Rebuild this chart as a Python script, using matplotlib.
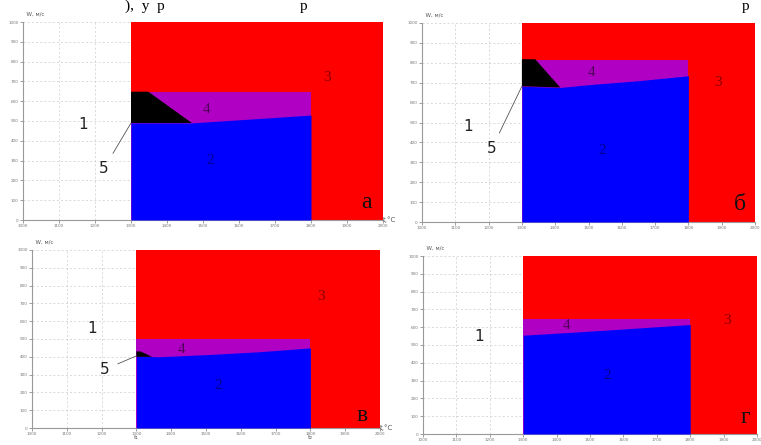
import numpy as np
import matplotlib.pyplot as plt
from matplotlib.patches import Polygon

# axis ticks (t, °C and W, m/s)
t_ticks = [1000, 1100, 1200, 1300, 1400, 1500, 1600, 1700, 1800, 1900, 2000]
w_ticks = [0, 100, 200, 300, 400, 500, 600, 700, 800, 900, 1000]

# boundaries of the regions, one set per panel
t1 = 1300   # start of the heated (red) zone
t2 = 1800   # end of the blue zone

a_blue_t = [1300, 1465, 1550, 1650, 1800]
a_blue_w = [490, 490, 500, 512, 530]
a_purple_top = 648
a_black_t = [1300, 1300, 1348, 1469]
a_black_w = [490, 648, 648, 490]

b_blue_t = [1300, 1415, 1500, 1650, 1800]
b_blue_w = [682, 676, 690, 710, 735]
b_purple_top = 815
b_black_t = [1300, 1300, 1340, 1415]
b_black_w = [682, 818, 818, 676]

v_blue_t = [1300, 1360, 1500, 1650, 1800]
v_blue_w = [405, 400, 412, 428, 450]
v_purple_top = 502
v_black_t = [1300, 1300, 1312, 1345]
v_black_w = [400, 430, 430, 400]

g_blue_t = [1300, 1450, 1600, 1800]
g_blue_w = [555, 572, 590, 615]
g_purple_top = 648
g_black_t = []
g_black_w = []

RED = "#ff0000"
BLUE = "#0000ff"
PURPLE = "#b000c4"

W, H = 761, 445
fig = plt.figure(figsize=(W / 100, H / 100), dpi=100)


def px_axes(left, top, right, bottom):
    return fig.add_axes([left / W, 1 - bottom / H, (right - left) / W, (bottom - top) / H])


def draw_panel(ax, blue_t, blue_w, purple_top, black_t, black_w):
    ax.set_xlim(t_ticks[0], t_ticks[-1])
    ax.set_ylim(w_ticks[0], w_ticks[-1])
    ax.set_xticks(t_ticks)
    ax.set_yticks(w_ticks)
    ax.tick_params(labelsize=3, colors="#777777", length=2, width=0.5, pad=1)
    ax.grid(True, ls=(0, (3, 3)), color="#cccccc", lw=0.5)
    ax.set_axisbelow(True)
    for s in ["top", "right"]:
        ax.spines[s].set_visible(False)
    for s in ["left", "bottom"]:
        ax.spines[s].set_color("#999999")
        ax.spines[s].set_linewidth(0.8)
    ax.axvspan(t1, t_ticks[-1], color=RED, lw=0, zorder=1)
    ax.fill_between([t1, t2], 0, purple_top, color=PURPLE, lw=0, zorder=2)
    ax.fill_between(blue_t, 0, blue_w, color=BLUE, lw=0, zorder=3)
    if black_t:
        ax.add_patch(Polygon(list(zip(black_t, black_w)), closed=True,
                             color="black", lw=0, zorder=4))


def region_labels(ax, p1, p2, p3, p4, letter_pos, letter):
    ax.text(*p1, "1", transform=ax.transAxes, fontsize=11, ha="center", va="center", color="#222222")
    ax.text(*p2, "3", transform=ax.transAxes, fontsize=11, ha="center", va="center",
            color="#8a0000", family="Liberation Serif", zorder=6)
    ax.text(*p3, "2", transform=ax.transAxes, fontsize=11, ha="center", va="center",
            color="#000090", family="Liberation Serif", zorder=6)
    ax.text(*p4, "4", transform=ax.transAxes, fontsize=11, ha="center", va="center",
            color="#50005a", family="Liberation Serif", zorder=6)
    ax.text(*letter_pos, letter, transform=ax.transAxes, fontsize=17, ha="center", va="center",
            color="#111111", family="Liberation Serif", zorder=6)


def label5(ax, text_pos, tip):
    ax.annotate("5", xy=tip, xytext=text_pos, textcoords="axes fraction",
                fontsize=11, ha="center", va="center", color="#222222",
                arrowprops=dict(arrowstyle="-", color="#555555", lw=0.6,
                                shrinkA=4, shrinkB=0), zorder=6, annotation_clip=False)


# panel а
ax_a = px_axes(23, 22, 383, 220)
draw_panel(ax_a, a_blue_t, a_blue_w, a_purple_top, a_black_t, a_black_w)
region_labels(ax_a, (0.167, 0.48), (0.845, 0.72), (0.52, 0.30), (0.51, 0.56), (0.955, 0.09), "а")
label5(ax_a, (0.225, 0.26), (1300, 490))

# panel б
ax_b = px_axes(422, 23, 755, 222)
draw_panel(ax_b, b_blue_t, b_blue_w, b_purple_top, b_black_t, b_black_w)
region_labels(ax_b, (0.14, 0.48), (0.89, 0.70), (0.54, 0.36), (0.51, 0.75), (0.955, 0.09), "б")
label5(ax_b, (0.21, 0.37), (1300, 682))

# panel в
ax_v = px_axes(32, 250, 380, 428)
draw_panel(ax_v, v_blue_t, v_blue_w, v_purple_top, v_black_t, v_black_w)
region_labels(ax_v, (0.172, 0.56), (0.83, 0.74), (0.535, 0.24), (0.43, 0.44), (0.95, 0.07), "в")
label5(ax_v, (0.21, 0.33), (1300, 405))

# panel г
ax_g = px_axes(423, 256, 757, 434)
draw_panel(ax_g, g_blue_t, g_blue_w, g_purple_top, g_black_t, g_black_w)
region_labels(ax_g, (0.167, 0.55), (0.91, 0.64), (0.55, 0.33), (0.43, 0.61), (0.965, 0.09), "г")

# axis captions
for ax in [ax_a, ax_b, ax_v, ax_g]:
    ax.text(0.0, 1.03, "  W, м/с", transform=ax.transAxes, fontsize=4, color="#555555",
            ha="left", va="bottom")
for ax in [ax_a, ax_v]:
    ax.text(1.0, 0.0, "t,°C", transform=ax.transAxes, fontsize=5, color="#555555",
            ha="left", va="center", zorder=7)
ax_v.text(t1, -0.055, "t₁", transform=ax_v.get_xaxis_transform(), fontsize=4.5,
          color="#555555", ha="center", va="center")
ax_v.text(t2, -0.055, "t₂", transform=ax_v.get_xaxis_transform(), fontsize=4.5,
          color="#555555", ha="center", va="center")

# line of the page text above the figure
fig.text(125 / W, 1.0, "),  у  р", fontsize=11, family="Liberation Serif", va="top")
fig.text(300 / W, 1.0, "р", fontsize=11, family="Liberation Serif", va="top")
fig.text(742 / W, 1.0, "р", fontsize=11, family="Liberation Serif", va="top")

fig.savefig("out.png", dpi=100)
